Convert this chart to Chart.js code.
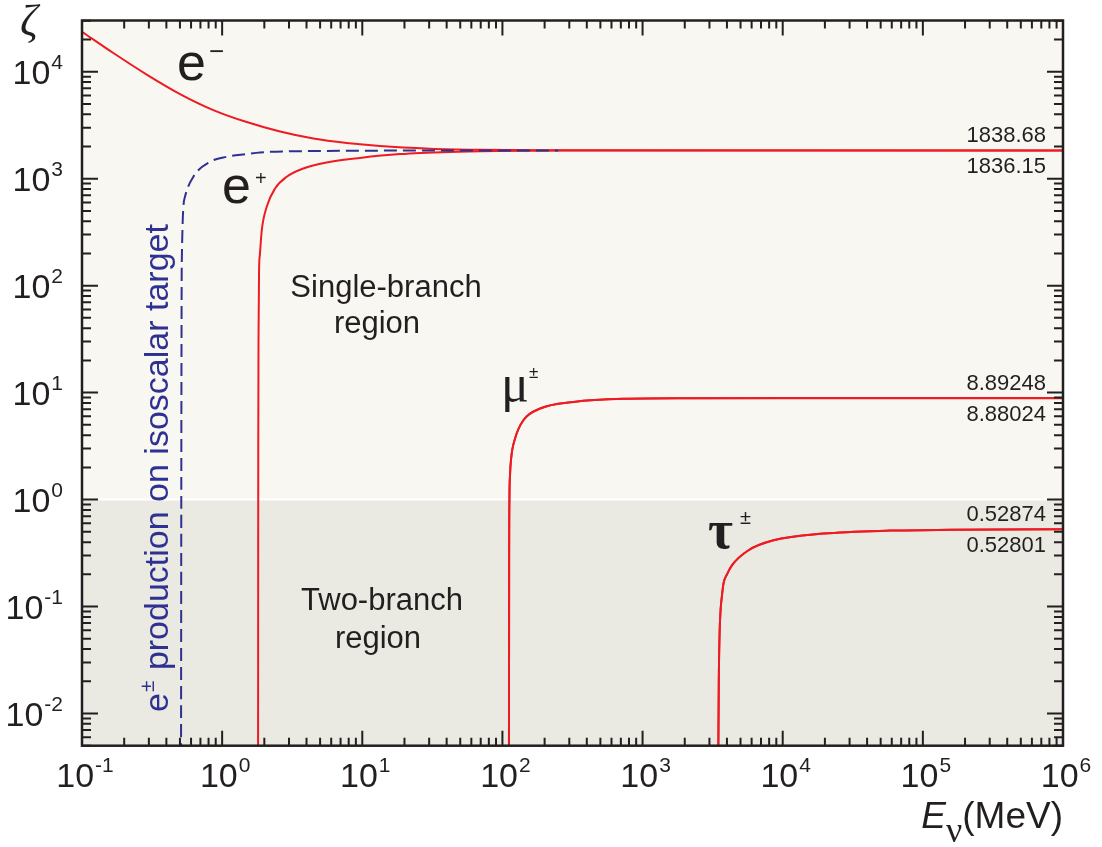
<!DOCTYPE html>
<html lang="en">
<head>
<meta charset="UTF-8">
<title>Branch ratio vs neutrino energy</title>
<script src="https://cdn.jsdelivr.net/npm/chart.js"></script>
<style>
    html, body {
        margin: 0;
        padding: 0;
        background: #ffffff;
    }
    .chart-container {
        position: relative;
        width: 1102px;
        height: 847px;
    }
</style>
</head>
<body>
<div class="chart-container"><canvas id="chartCanvas"></canvas></div>
<script>
    // asymptotic values written at the right edge (upper / lower label of each pair)
    const plateauUpper = [1838.68, 8.89248, 0.52874];
    const plateauLower = [1836.15, 8.88024, 0.52801];

    // e- branch (last energy is the plateau point)
    const eMinusE    = [0.1, 0.1673, 0.2895, 0.5006, 0.865, 1.498, 2.59, 4.477, 7.74, 13.4, 30.5, 69.3, 200, 1e6];
    const eMinusZeta = [23660, 14960, 9410, 6185, 4382, 3384, 2758, 2371, 2153, 2018, 1909, 1864, 1842];

    // e+ branch
    const ePlusE    = [1.805, 1.81, 1.82, 1.834, 1.858, 1.918, 2.08, 2.386, 2.89, 3.8, 5.58, 9.64, 18.6, 42.3, 96.3, 258, 1e6];
    const ePlusZeta = [0.004, 3, 40, 139, 193, 330, 546, 811, 1042, 1247, 1419, 1565, 1699, 1781, 1816, 1832];

    // e+- production on isoscalar target (dashed)
    const isoE    = [0.509, 0.511, 0.513, 0.515, 0.543, 0.623, 0.82, 1.078, 1.5, 1.865, 5, 20, 250];
    const isoZeta = [0.004, 1, 30, 161, 677, 1042, 1439, 1603, 1700, 1762, 1815, 1832, 1837];

    // mu+- branch
    const muE    = [111.3, 111.65, 112.2, 113.3, 115.4, 123.2, 141, 186, 321, 731, 2190, 1e4, 1e6];
    const muZeta = [0.004, 0.27, 1.0, 1.69, 2.43, 3.74, 5.52, 7.10, 8.18, 8.75, 8.86];

    // tau+- branch
    const tauE    = [3470, 3499, 3550, 3609, 3687, 3780, 4018, 4340, 5700, 8600, 19500, 58500, 157000, 1e6];
    const tauZeta = [0.004, 0.0205, 0.060, 0.0955, 0.127, 0.164, 0.202, 0.243, 0.336, 0.416, 0.481, 0.513, 0.522];

    // decade exponents for the axis labels
    const xExponents = ['-1', '0', '1', '2', '3', '4', '5', '6'];
    const yExponents = ['-2', '-1', '0', '1', '2', '3', '4'];

    const X_MIN = 0.1, X_MAX = 1e6;
    const Y_MIN = 0.005, Y_MAX = 30130;

    const RED = '#ed1c24';
    const BLUE = '#2e3192';
    const INK = '#231f20';
    const SANS = '"Liberation Sans", Arial, sans-serif';
    const SERIF = '"Liberation Serif", "Times New Roman", serif';

    // points, missing tail values take the plateau value
    function build(xs, ys, plateau) {
        return xs.map((x, i) => ({ x: x, y: i < ys.length ? ys[i] : plateau }));
    }

    function redLine(data) {
        return {
            data: data,
            borderColor: RED,
            borderWidth: 2,
            pointRadius: 0,
            cubicInterpolationMode: 'monotone',
            clip: 0
        };
    }

    function drawPow(ctx, x, y, exp, align) {
        ctx.font = '34px ' + SANS;
        const wBase = ctx.measureText('10').width;
        ctx.font = '21px ' + SANS;
        const wExp = ctx.measureText(exp).width;
        const total = wBase + 1 + wExp;
        const left = align === 'right' ? x - total : x - total / 2 + 3;
        ctx.textAlign = 'left';
        ctx.font = '34px ' + SANS;
        ctx.fillText('10', left, y);
        ctx.font = '21px ' + SANS;
        ctx.fillText(exp, left + wBase + 1, y - 15);
    }

    const regionShading = {
        id: 'regionShading',
        beforeDatasetsDraw(chart) {
            const { ctx, chartArea: a, scales } = chart;
            const yOne = scales.y.getPixelForValue(1);
            ctx.save();
            ctx.fillStyle = '#f9f7f1';
            ctx.fillRect(a.left, a.top, a.width, yOne - a.top);
            ctx.fillStyle = '#eae9e2';
            ctx.fillRect(a.left, yOne, a.width, a.bottom - yOne);
            ctx.strokeStyle = '#ffffff';
            ctx.lineWidth = 2;
            ctx.beginPath();
            ctx.moveTo(a.left, yOne);
            ctx.lineTo(a.right, yOne);
            ctx.stroke();
            ctx.restore();
        }
    };

    const frameAndText = {
        id: 'frameAndText',
        afterDatasetsDraw(chart) {
            const { ctx, chartArea: a, scales } = chart;
            const xs = scales.x, ys = scales.y;
            ctx.save();
            ctx.strokeStyle = INK;
            ctx.fillStyle = INK;

            // inward ticks on all four sides
            ctx.lineWidth = 2;
            ctx.beginPath();
            for (let k = -1; k <= 6; k++) {
                for (let m = 1; m <= 9; m++) {
                    const v = m * Math.pow(10, k);
                    if (v > X_MAX * 1.0001) continue;
                    const px = xs.getPixelForValue(v);
                    const len = m === 1 ? 15 : 8;
                    ctx.moveTo(px, a.bottom); ctx.lineTo(px, a.bottom - len);
                    ctx.moveTo(px, a.top); ctx.lineTo(px, a.top + len);
                }
            }
            for (let k = -3; k <= 4; k++) {
                for (let m = 1; m <= 9; m++) {
                    const v = m * Math.pow(10, k);
                    if (v < Y_MIN || v > Y_MAX) continue;
                    const py = ys.getPixelForValue(v);
                    const len = m === 1 ? 16 : 9;
                    ctx.moveTo(a.left, py); ctx.lineTo(a.left + len, py);
                    ctx.moveTo(a.right, py); ctx.lineTo(a.right - len, py);
                }
            }
            ctx.stroke();

            // frame
            ctx.lineWidth = 2.5;
            ctx.strokeRect(a.left, a.top, a.width, a.height);

            // axis numbers
            ctx.textBaseline = 'alphabetic';
            xExponents.forEach(e => {
                drawPow(ctx, xs.getPixelForValue(Math.pow(10, +e)), 787, e, 'center');
            });
            yExponents.forEach(e => {
                drawPow(ctx, 63, ys.getPixelForValue(Math.pow(10, +e)) + 12, e, 'right');
            });

            // axis titles
            ctx.textAlign = 'left';
            ctx.font = 'italic 44px ' + SERIF;
            ctx.fillText('\u03b6', 20, 35);

            ctx.textAlign = 'right';
            ctx.font = '37px ' + SANS;
            ctx.fillText('(MeV)', 1063, 828);
            const wMeV = ctx.measureText('(MeV)').width;
            ctx.font = '36px ' + SERIF;
            ctx.fillText('\u03bd', 1063 - wMeV, 842);
            const wNu = ctx.measureText('\u03bd').width;
            ctx.font = 'italic 37px ' + SANS;
            ctx.fillText('E', 1063 - wMeV - wNu, 828);

            // plateau values at the right edge
            ctx.font = '22px ' + SANS;
            ctx.textAlign = 'right';
            plateauUpper.forEach((v, i) => {
                const py = ys.getPixelForValue(v);
                ctx.fillText(v.toString(), 1046, py - 8);
                ctx.fillText(plateauLower[i].toString(), 1046, py + 23);
            });

            // curve names
            ctx.textAlign = 'left';
            ctx.font = '52px ' + SANS;
            ctx.fillText('e', 177, 80);
            ctx.fillText('e', 222, 203);
            ctx.font = '26px ' + SANS;
            ctx.fillText('\u2212', 209, 60);
            ctx.font = '20px ' + SANS;
            ctx.fillText('+', 255, 185);

            ctx.font = '52px ' + SERIF;
            ctx.fillText('\u03bc', 501, 401);
            ctx.font = '17px ' + SANS;
            ctx.fillText('\u00b1', 529, 378);

            ctx.font = 'bold 54px ' + SERIF;
            ctx.fillText('\u03c4', 708, 548);
            ctx.font = '20px ' + SANS;
            ctx.fillText('\u00b1', 740, 524);

            // region names
            ctx.textAlign = 'center';
            ctx.font = '31px ' + SANS;
            ctx.fillText('Single-branch', 386, 297);
            ctx.fillText('region', 377, 333);
            ctx.fillText('Two-branch', 382, 610);
            ctx.fillText('region', 378, 648);

            // vertical note beside the dashed curve
            ctx.fillStyle = BLUE;
            ctx.translate(168, 712);
            ctx.rotate(-Math.PI / 2);
            ctx.textAlign = 'left';
            ctx.font = '34px ' + SANS;
            ctx.fillText('e', 0, 0);
            const wE = ctx.measureText('e').width;
            ctx.font = '21px ' + SANS;
            ctx.fillText('\u00b1', wE + 1, -14);
            const wPm = ctx.measureText('\u00b1').width;
            ctx.font = '34px ' + SANS;
            ctx.fillText(' production on isoscalar target', wE + wPm + 2, 0);

            ctx.restore();
        }
    };

    const isoLine = {
        data: build(isoE, isoZeta, null),
        borderColor: BLUE,
        borderWidth: 2,
        borderDash: [13, 6],
        pointRadius: 0,
        cubicInterpolationMode: 'monotone',
        clip: 0
    };

    new Chart(document.getElementById('chartCanvas'), {
        type: 'line',
        data: {
            datasets: [
                isoLine,
                redLine(build(eMinusE, eMinusZeta, plateauUpper[0])),
                redLine(build(ePlusE, ePlusZeta, plateauLower[0])),
                redLine(build(muE, muZeta, plateauUpper[1])),
                redLine(build(muE, muZeta, plateauLower[1])),
                redLine(build(tauE, tauZeta, plateauUpper[2])),
                redLine(build(tauE, tauZeta, plateauLower[2]))
            ]
        },
        options: {
            responsive: true,
            maintainAspectRatio: false,
            animation: false,
            layout: { padding: { left: 82, right: 39, top: 20.5, bottom: 101.3 } },
            plugins: {
                legend: { display: false },
                tooltip: { enabled: false }
            },
            scales: {
                x: { type: 'logarithmic', min: X_MIN, max: X_MAX, display: false },
                y: { type: 'logarithmic', min: Y_MIN, max: Y_MAX, display: false }
            }
        },
        plugins: [regionShading, frameAndText]
    });
</script>
</body>
</html>
